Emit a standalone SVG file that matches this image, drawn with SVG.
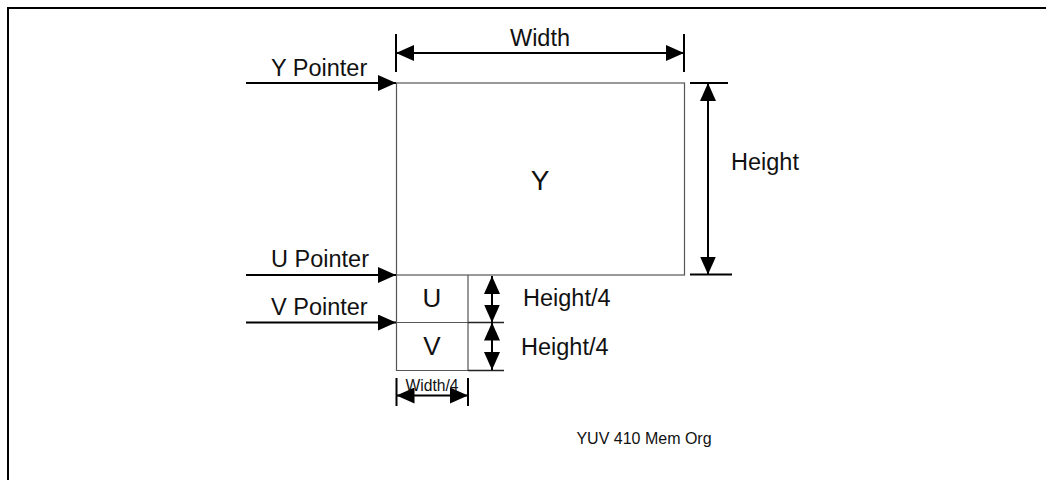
<svg xmlns="http://www.w3.org/2000/svg" width="1046" height="480" viewBox="0 0 1046 480">
<defs>
<marker id="ah" markerUnits="userSpaceOnUse" markerWidth="18" markerHeight="16" refX="18" refY="8" orient="auto-start-reverse" viewBox="0 0 18 16">
<path d="M0,0 L18,8 L0,16 z" fill="#000"/>
</marker>
</defs>
<style>
text{font-family:"Liberation Sans",Arial,sans-serif;fill:#111}
.lbl{font-size:23.5px}
.big{font-size:26px}
.sm{font-size:16px}
.arr{stroke:#000;stroke-width:2;fill:none}
.box{stroke:#555;stroke-width:1.2;fill:none}
.tick{stroke:#000;stroke-width:2}
</style>
<rect width="1046" height="480" fill="#fff"/>
<g id="frame">
<path d="M8,480 L8,8 L1046,8" fill="none" stroke="#000" stroke-width="2"/>
</g>
<g id="y-plane">
<rect class="box" x="396.5" y="83" width="288" height="192"/>
<text x="540" y="190" text-anchor="middle" style="font-size:28px">Y</text>
</g>
<g id="u-plane">
<path class="box" d="M396.5,275 L396.5,322.5 L468,322.5 L468,275"/>
<text class="big" x="432" y="307" text-anchor="middle">U</text>
</g>
<g id="v-plane">
<path class="box" d="M396.5,322.5 L396.5,370.5 L468,370.5 L468,322.5"/>
<text class="big" x="432" y="355" text-anchor="middle">V</text>
</g>
<g id="connectors">
<line class="arr" x1="246" y1="83" x2="396" y2="83" marker-end="url(#ah)"/>
<line class="arr" x1="246" y1="275" x2="396" y2="275" marker-end="url(#ah)"/>
<line class="arr" x1="246" y1="322.5" x2="396" y2="322.5" marker-end="url(#ah)"/>
<line class="tick" x1="396" y1="34" x2="396" y2="72"/>
<line class="tick" x1="684" y1="34" x2="684" y2="72"/>
<line class="arr" x1="396" y1="53" x2="684" y2="53" marker-start="url(#ah)" marker-end="url(#ah)"/>
<line class="tick" x1="690" y1="83" x2="728" y2="83"/>
<line class="tick" x1="690" y1="274.5" x2="732" y2="274.5"/>
<line class="arr" x1="708" y1="83" x2="708" y2="274.5" marker-start="url(#ah)" marker-end="url(#ah)"/>
<line class="box" x1="468" y1="322.5" x2="504" y2="322.5" style="stroke:#222;stroke-width:1.5"/>
<line class="box" x1="468" y1="370.5" x2="504" y2="370.5" style="stroke:#222;stroke-width:1.5"/>
<line class="arr" x1="492" y1="276" x2="492" y2="322.5" marker-start="url(#ah)" marker-end="url(#ah)"/>
<line class="arr" x1="492" y1="322.5" x2="492" y2="370" marker-start="url(#ah)" marker-end="url(#ah)"/>
<line class="tick" x1="396.5" y1="378" x2="396.5" y2="406"/>
<line class="tick" x1="468" y1="378" x2="468" y2="406"/>
<line class="arr" x1="396.5" y1="395.5" x2="468" y2="395.5" marker-start="url(#ah)" marker-end="url(#ah)"/>
</g>
<g id="labels">
<text class="lbl" x="271" y="76">Y Pointer</text>
<text class="lbl" x="271" y="267">U Pointer</text>
<text class="lbl" x="271" y="315">V Pointer</text>
<text class="lbl" x="540" y="46" text-anchor="middle">Width</text>
<text class="lbl" x="731" y="170">Height</text>
<text class="lbl" x="523" y="306">Height/4</text>
<text class="lbl" x="521" y="355">Height/4</text>
<text class="sm" x="432" y="391" text-anchor="middle" textLength="53" lengthAdjust="spacingAndGlyphs">Width/4</text>
<text class="sm" x="644" y="444" text-anchor="middle">YUV 410 Mem Org</text>
</g>
</svg>
